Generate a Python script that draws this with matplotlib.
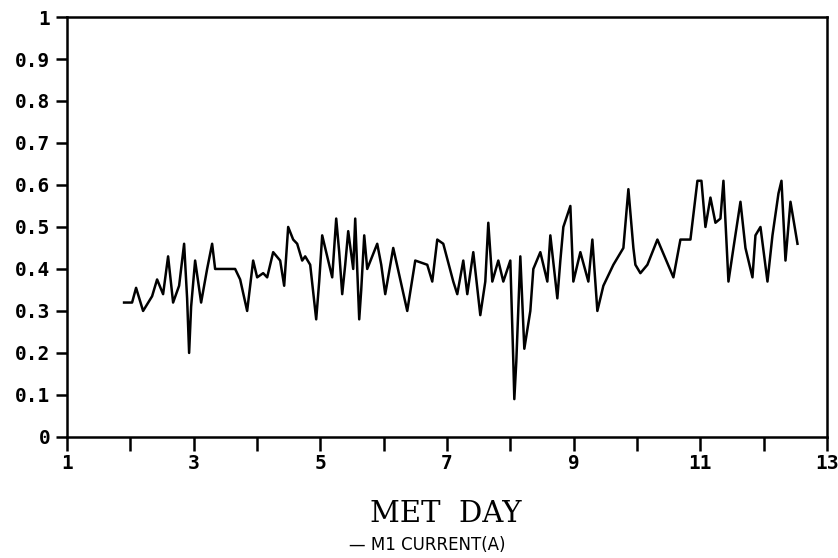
import matplotlib
matplotlib.use("Agg")
import matplotlib.pyplot as plt
import numpy as np

# pixel-read positions converted to MET DAY
met_day_px = [124, 132, 136, 143, 152, 157, 163, 168, 173, 179, 184, 187, 189, 191, 195, 201, 207, 212, 215, 235,
              240, 247, 248, 253, 257, 263, 267, 273, 280, 284, 288, 293, 297, 302, 305, 310, 316, 319, 322, 327,
              332, 336, 339, 342, 345, 348, 353, 355, 359, 361, 364, 367, 377, 381, 385, 393, 407, 415, 427, 432,
              437, 443, 453, 457, 463, 467, 473, 480, 485, 488, 492, 498, 503, 510, 513, 514, 516, 520, 524, 530,
              533, 540, 547, 550, 557, 560, 563, 570, 573, 580, 588, 592, 597, 603, 613, 623, 628, 633, 635, 640,
              647, 657, 673, 680, 690, 697, 701, 705, 710, 715, 720, 723, 728, 733, 740, 745, 752, 755, 760, 767,
              772, 778, 781, 785, 790, 797]
m1_current = [0.32, 0.32, 0.355, 0.30, 0.335, 0.375, 0.34, 0.43, 0.32, 0.36, 0.46, 0.33, 0.20, 0.31, 0.42, 0.32, 0.40, 0.46, 0.40, 0.40,
              0.375, 0.30, 0.32, 0.42, 0.38, 0.39, 0.38, 0.44, 0.42, 0.36, 0.50, 0.47, 0.46, 0.42, 0.43, 0.41, 0.28, 0.37, 0.48, 0.43,
              0.38, 0.52, 0.44, 0.34, 0.41, 0.49, 0.40, 0.52, 0.28, 0.35, 0.48, 0.40, 0.46, 0.41, 0.34, 0.45, 0.30, 0.42, 0.41, 0.37,
              0.47, 0.46, 0.37, 0.34, 0.42, 0.34, 0.44, 0.29, 0.37, 0.51, 0.37, 0.42, 0.37, 0.42, 0.18, 0.09, 0.18, 0.43, 0.21, 0.30,
              0.40, 0.44, 0.37, 0.48, 0.33, 0.42, 0.50, 0.55, 0.37, 0.44, 0.37, 0.47, 0.30, 0.36, 0.41, 0.45, 0.59, 0.45, 0.41, 0.39,
              0.41, 0.47, 0.38, 0.47, 0.47, 0.61, 0.61, 0.50, 0.57, 0.51, 0.52, 0.61, 0.37, 0.45, 0.56, 0.45, 0.38, 0.48, 0.50, 0.37,
              0.48, 0.58, 0.61, 0.42, 0.56, 0.46]
met_day = [1 + (p - 67) / 63.3 for p in met_day_px]

x_major = [1, 3, 5, 7, 9, 11, 13]
x_minor = [2, 4, 6, 8, 10, 12]
y_ticks = [0, 0.1, 0.2, 0.3, 0.4, 0.5, 0.6, 0.7, 0.8, 0.9, 1]
y_labels = ["0", "0.1", "0.2", "0.3", "0.4", "0.5", "0.6", "0.7", "0.8", "0.9", "1"]

fig = plt.figure(figsize=(8.38, 5.58), dpi=100)
ax = fig.add_axes([0.080, 0.217, 0.907, 0.7525])
ax.plot(met_day, m1_current, color="black", lw=1.8)
ax.set_xlim(1, 13)
ax.set_ylim(0, 1)
mono = "DejaVu Sans Mono"
ax.set_xticks(x_major)
ax.set_xticklabels([str(v) for v in x_major], family=mono, fontsize=14, fontweight="bold")
ax.set_xticks(x_minor, minor=True)
ax.set_yticks(y_ticks)
ax.set_yticklabels(y_labels, family=mono, fontsize=14, fontweight="bold")
ax.tick_params(axis="x", which="both", direction="out", length=10, width=1.8, pad=2)
ax.tick_params(axis="y", direction="out", length=8, width=1.8, pad=4)
for s in ax.spines.values():
    s.set_linewidth(1.8)

fig.text(0.532, 0.079, "MET  DAY", ha="center", va="center", family="DejaVu Serif", fontsize=21)
fig.text(0.510, 0.024, "— M1 CURRENT(A)", ha="center", va="center", family="DejaVu Sans", fontsize=12)
fig.savefig("out.png", dpi=100)
